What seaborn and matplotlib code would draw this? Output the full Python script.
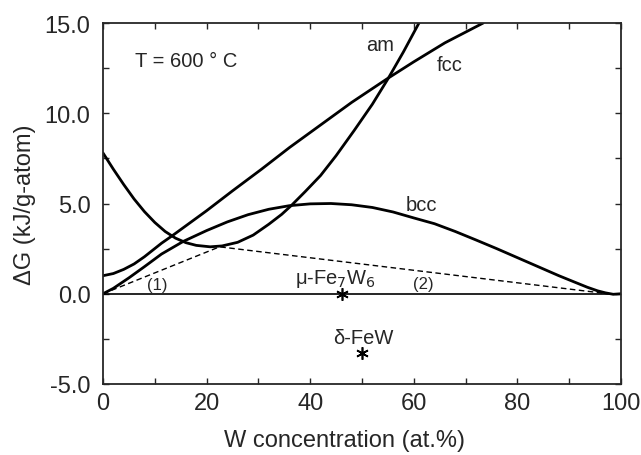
import matplotlib
matplotlib.use("Agg")
import matplotlib.pyplot as plt
import pandas as pd
import seaborn as sb
from matplotlib.ticker import MultipleLocator, FormatStrFormatter

# curves (W at.%, kJ/g-atom)
x_am = [0, 2, 4, 6, 8, 10, 12, 14, 16, 18, 20.7, 23, 26, 29, 32, 34.5, 36.4, 39, 42, 45, 48.5, 52, 55, 58, 61]
y_am = [7.8, 6.9, 6.05, 5.25, 4.55, 3.95, 3.45, 3.08, 2.83, 2.68, 2.6, 2.65, 2.85, 3.25, 3.85, 4.4, 4.9,
        5.65, 6.55, 7.65, 9.05, 10.5, 11.9, 13.4, 15.0]

x_fcc = [0, 2, 4, 6, 8, 11.3, 13.3, 20, 25, 30.6, 36, 42, 48, 54.8, 60, 66, 73.4]
y_fcc = [1.0, 1.12, 1.35, 1.65, 2.05, 2.8, 3.2, 4.6, 5.7, 6.9, 8.1, 9.35, 10.6, 11.9, 12.85, 13.9, 15.0]

x_bcc = [0, 2, 5, 8, 11.3, 15.5, 20, 24, 28, 32, 36, 40, 44, 48, 52, 56, 60, 64, 68, 72, 76, 80,
         84, 88, 91, 93.5, 95.5, 97, 98.5, 100]
y_bcc = [0, 0.3, 0.88, 1.5, 2.2, 2.9, 3.5, 3.98, 4.38, 4.68, 4.88, 4.98, 5.0, 4.93, 4.78, 4.53, 4.2,
         3.88, 3.45, 2.98, 2.5, 2.0, 1.5, 1.0, 0.65, 0.36, 0.16, 0.05, -0.03, 0.0]

x_tangent = [0, 22.5, 97.5]
y_tangent = [0, 2.6, 0]

x_mu, y_mu = 46.15, 0.0
x_delta, y_delta = 50.0, -3.3

sb.set_style("ticks")
plt.rcParams["font.family"] = ["Liberation Sans", "DejaVu Sans"]

fig = plt.figure(figsize=(6.41, 4.56), dpi=100)
ax = fig.add_axes([103/641, 1 - 385/456, 518/641, 361/456])

ax.axhline(0, color="black", lw=1.2)
sb.lineplot(x=x_am, y=y_am, color="black", lw=2, sort=False, ax=ax)
sb.lineplot(x=x_fcc, y=y_fcc, color="black", lw=2, sort=False, ax=ax)
sb.lineplot(x=x_bcc, y=y_bcc, color="black", lw=2, sort=False, ax=ax)
sb.lineplot(x=x_tangent, y=y_tangent, color="black", lw=1, ls=(0, (4, 2.5)), sort=False, ax=ax)
ax.plot([x_mu, x_delta], [y_mu, y_delta], ls="none", marker=(6, 2, 0), ms=9,
        mec="black", mew=1.2, clip_on=False)

ax.set_xlim(0, 100)
ax.set_ylim(-5, 15)
ax.xaxis.set_major_locator(MultipleLocator(20))
ax.xaxis.set_minor_locator(MultipleLocator(10))
ax.yaxis.set_major_locator(MultipleLocator(5))
ax.yaxis.set_minor_locator(MultipleLocator(2.5))
ax.yaxis.set_major_formatter(FormatStrFormatter("%.1f"))
ax.tick_params(which="both", direction="in", top=True, right=True, length=4, width=1,
               labelsize=17)
ax.tick_params(axis="x", pad=6)
ax.tick_params(axis="y", pad=9)
for s in ax.spines.values():
    s.set_linewidth(1.3)

ax.set_xlabel("W concentration (at.%)", fontsize=17, labelpad=10)
ax.set_ylabel("ΔG (kJ/g-atom)", fontsize=17, labelpad=6)
ax.xaxis.set_label_coords(0.467, -0.125)

fs = 14.5
ax.text(6.2, 12.95, "T = 600 ° C", fontsize=fs, va="center")
ax.text(53.5, 13.8, "am", fontsize=fs, ha="center", va="center")
ax.text(67, 12.7, "fcc", fontsize=fs, ha="center", va="center")
ax.text(61.5, 4.95, "bcc", fontsize=fs, ha="center", va="center")
ax.text(44.8, 0.9, "μ-Fe$_7$W$_6$", fontsize=fs, ha="center", va="center")
ax.text(50.3, -2.4, "δ-FeW", fontsize=fs, ha="center", va="center")
ax.text(10.4, 0.5, "(1)", fontsize=12, ha="center", va="center")
ax.text(61.8, 0.55, "(2)", fontsize=12, ha="center", va="center")

plt.savefig("out.png", dpi=100)
plt.close()
